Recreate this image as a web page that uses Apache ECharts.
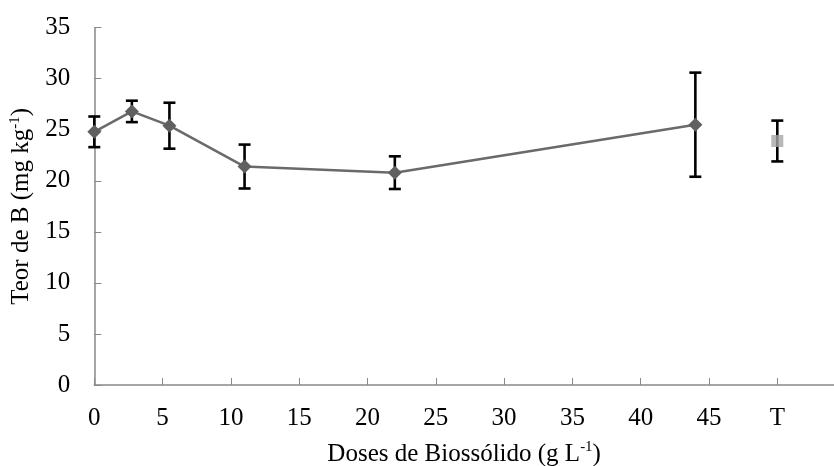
<!DOCTYPE html>
<html lang="pt" style="height: 100%">
<head>
    <meta charset="utf-8">
    <title>Teor de B</title>
</head>
<body style="height: 100%; margin: 0; background: #fff">
<div id="container" style="width: 834px; height: 466px"></div>
<script type="text/javascript" src="https://cdn.jsdelivr.net/npm/echarts@6/dist/echarts.min.js"></script>
<script type="text/javascript">
    // doses de biossólido (g L-1)
    var doses = [0, 2.75, 5.5, 11, 22, 44];
    var teor = [24.8, 26.8, 25.4, 21.4, 20.8, 25.5];
    var erro = [1.5, 1.05, 2.25, 2.15, 1.6, 5.1];
    // testemunha (T), desenhada na posição 50 do eixo
    var testemunhaX = 50;
    var testemunha = 23.9;
    var testemunhaErro = 2.0;
    var xTicks = [0, 5, 10, 15, 20, 25, 30, 35, 40, 45, 50];
    var xLabels = ['0', '5', '10', '15', '20', '25', '30', '35', '40', '45', 'T'];

    var serif = "'Liberation Serif', 'Times New Roman', serif";

    var linha = doses.map(function (d, i) { return [d, teor[i]]; });
    var barras = doses.map(function (d, i) { return [d, teor[i] - erro[i], teor[i] + erro[i]]; });
    barras.push([testemunhaX, testemunha - testemunhaErro, testemunha + testemunhaErro]);

    var dom = document.getElementById('container');
    var myChart = echarts.init(dom, null, { renderer: 'canvas' });

    function renderErro(params, api) {
        var x = api.value(0);
        var top = api.coord([x, api.value(2)]);
        var bot = api.coord([x, api.value(1)]);
        var w = 6;
        var st = { stroke: '#000', lineWidth: 2.6 };
        return {
            type: 'group',
            children: [
                { type: 'line', shape: { x1: top[0], y1: top[1], x2: bot[0], y2: bot[1] }, style: st },
                { type: 'line', shape: { x1: top[0] - w, y1: top[1], x2: top[0] + w, y2: top[1] }, style: st },
                { type: 'line', shape: { x1: bot[0] - w, y1: bot[1], x2: bot[0] + w, y2: bot[1] }, style: st }
            ]
        };
    }

    var option = {
        animation: false,
        backgroundColor: '#fff',
        grid: { left: 94.3, right: 0, top: 27.7, bottom: 81, containLabel: false, outerBoundsMode: 'none' },
        xAxis: {
            type: 'value',
            min: 0,
            max: 54.15,
            name: '{n|Doses de Biossólido (g L}{s|-1}{n|)}',
            nameLocation: 'middle',
            nameGap: 55,
            nameTextStyle: {
                rich: {
                    n: { fontFamily: serif, fontSize: 25, color: '#000', lineHeight: 28 },
                    s: { fontFamily: serif, fontSize: 15, color: '#000', lineHeight: 28, verticalAlign: 'top' }
                }
            },
            splitLine: { show: false },
            axisLine: { lineStyle: { color: '#888', width: 1.5 } },
            axisTick: { inside: true, length: 7, lineStyle: { color: '#888', width: 1 }, customValues: xTicks },
            axisLabel: {
                customValues: xTicks,
                margin: 21,
                fontFamily: serif,
                fontSize: 25,
                color: '#000',
                formatter: function (v) {
                    var i = xTicks.indexOf(v);
                    return i >= 0 ? xLabels[i] : '';
                }
            }
        },
        yAxis: {
            type: 'value',
            min: 0,
            max: 35,
            interval: 5,
            name: '{n|Teor de B (mg kg}{s|-1}{n|)}',
            nameLocation: 'middle',
            nameRotate: 90,
            nameGap: 54,
            nameTextStyle: {
                rich: {
                    n: { fontFamily: serif, fontSize: 25, color: '#000', lineHeight: 28 },
                    s: { fontFamily: serif, fontSize: 15, color: '#000', lineHeight: 28, verticalAlign: 'top' }
                }
            },
            splitLine: { show: false },
            axisLine: { show: true, lineStyle: { color: '#888', width: 1.5 } },
            axisTick: { show: true, inside: true, length: 7, lineStyle: { color: '#888', width: 1 } },
            axisLabel: { margin: 24, fontFamily: serif, fontSize: 25, color: '#000' }
        },
        series: [
            {
                type: 'custom',
                renderItem: renderErro,
                data: barras,
                encode: { x: 0, y: [1, 2] },
                z: 1
            },
            {
                type: 'line',
                data: linha,
                symbol: 'diamond',
                symbolSize: 14,
                itemStyle: { color: '#606060' },
                lineStyle: { color: '#6a6a6a', width: 2.5 },
                z: 3
            },
            {
                type: 'scatter',
                data: [[testemunhaX, testemunha]],
                symbol: 'rect',
                symbolSize: 12,
                itemStyle: { color: '#a6a6a6' },
                z: 3
            }
        ]
    };

    myChart.setOption(option);
    window.addEventListener('resize', myChart.resize);
</script>
</body>
</html>
